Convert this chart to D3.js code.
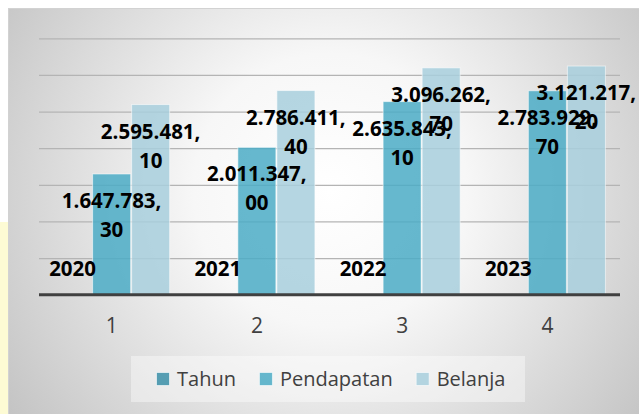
<!DOCTYPE html>
<html>
<head>
<meta charset="utf-8">
<script src="https://cdn.jsdelivr.net/npm/d3@7/dist/d3.min.js"></script>
<style>
  html, body { margin: 0; padding: 0; background: #ffffff; }
  svg { display: block; }
</style>
</head>
<body>
<svg id="chart" width="639" height="414"></svg>
<script>
// ---------- data ----------
const categories = ["1", "2", "3", "4"];
const seriesNames = ["Tahun", "Pendapatan", "Belanja"];
const tahun = [2020, 2021, 2022, 2023];
const pendapatan = [1647783.30, 2011347.00, 2635843.10, 2783929.70];
const belanja = [2595481.10, 2786411.40, 3096262.70, 3121217.20];
const yTicks = [0, 500000, 1000000, 1500000, 2000000, 2500000, 3000000, 3500000];
const seriesColors = ["#3b8fa8", "#4bacc6", "#a8cfdd"];

// ---------- setup ----------
const W = 639, H = 414;
const plot = { left: 39, right: 620, top: 38.3, bottom: 294.7 };
const svg = d3.select("#chart");
const defs = svg.append("defs");

const grad = defs.append("radialGradient")
  .attr("id", "bg").attr("gradientUnits", "userSpaceOnUse")
  .attr("cx", 330).attr("cy", 190).attr("r", 390);
grad.append("stop").attr("offset", "0").attr("stop-color", "#ffffff");
grad.append("stop").attr("offset", "0.35").attr("stop-color", "#f7f7f7");
grad.append("stop").attr("offset", "1").attr("stop-color", "#c4c4c4");

// page / frame
svg.append("rect").attr("x", 0).attr("y", 0).attr("width", W).attr("height", H).attr("fill", "#ffffff");
svg.append("rect").attr("x", 0).attr("y", 222).attr("width", 8).attr("height", H - 222).attr("fill", "#fdfbd4");
svg.append("rect").attr("x", 8.5).attr("y", 8.5).attr("width", W).attr("height", H)
  .attr("fill", "url(#bg)").attr("stroke", "#d2d2d2").attr("stroke-width", 1);

// ---------- scales ----------
const y = d3.scaleLinear().domain([0, 3500000]).range([plot.bottom, plot.top]);
const x0 = d3.scaleBand().domain(categories).range([plot.left, plot.right])
  .paddingInner(0.194).paddingOuter(0.097);
const x1 = d3.scaleBand().domain(seriesNames).range([0, x0.bandwidth()]);

// ---------- gridlines ----------
const gridAxis = d3.axisLeft(y).tickValues(yTicks.slice(1))
  .tickSize(-(plot.right - plot.left)).tickFormat("");
const gG = svg.append("g").attr("transform", `translate(${plot.left},0)`).call(gridAxis);
gG.select(".domain").remove();
gG.selectAll(".tick line").attr("stroke", "#b4b4b4").attr("stroke-width", 1.3);

// ---------- bars ----------
const table = categories.map((c, i) => ({
  cat: c,
  vals: [tahun[i], pendapatan[i], belanja[i]]
}));

const groups = svg.append("g").selectAll("g").data(table).join("g")
  .attr("transform", d => `translate(${x0(d.cat)},0)`);

groups.selectAll("rect").data(d => d.vals.map((v, j) => ({ v, j })))
  .join("rect")
  .attr("x", d => x1(seriesNames[d.j]) + 0.5)
  .attr("width", x1.bandwidth() - 1)
  .attr("y", d => y(d.v))
  .attr("height", d => Math.max(0, y(0) - y(d.v)))
  .attr("fill", d => seriesColors[d.j])
  .attr("fill-opacity", 0.85)
  .attr("stroke", "rgba(255,255,255,0.55)")
  .attr("stroke-width", 1);

// ---------- x axis ----------
const xAxis = d3.axisBottom(x0).tickSize(0).tickPadding(0);
const xG = svg.append("g").attr("transform", `translate(0,${plot.bottom})`).call(xAxis);
xG.select(".domain").attr("stroke", "#404040").attr("stroke-width", 3)
  .attr("d", `M${plot.left},0H${plot.right}`);
xG.selectAll(".tick text")
  .attr("y", 38.5).attr("dy", null)
  .attr("font-family", "'Open Sans', sans-serif")
  .attr("font-size", 21).attr("fill", "#404040");

// ---------- data labels ----------
const idLocale = d3.formatLocale({ decimal: ",", thousands: ".", grouping: [3], currency: ["Rp", ""] });
const fmtMoney = idLocale.format(",.2f");
const labelFont = "'Open Sans', 'Liberation Sans', sans-serif";
const labels = svg.append("g")
  .attr("font-family", labelFont).attr("font-weight", "bold")
  .attr("font-size", 20.5).attr("fill", "#000000").attr("text-anchor", "middle");

table.forEach(d => {
  d.vals.forEach((v, j) => {
    const cx = x0(d.cat) + x1(seriesNames[j]) + x1.bandwidth() / 2;
    if (j === 0) {
      labels.append("text").attr("x", cx).attr("y", y(v) - 19).text(String(v));
    } else {
      const s = fmtMoney(v);
      const k = s.indexOf(",");
      const lines = [s.slice(0, k + 1), s.slice(k + 1)];
      const t = labels.append("text").attr("x", cx).attr("y", y(v) + 34);
      lines.forEach((ln, li) => {
        t.append("tspan").attr("x", cx).attr("dy", li === 0 ? 0 : 29).text(ln);
      });
    }
  });
});

// ---------- legend ----------
const legend = svg.append("g");
legend.append("rect").attr("x", 131).attr("y", 356).attr("width", 394).attr("height", 46)
  .attr("fill", "#ffffff").attr("fill-opacity", 0.4);
let lx = 156;
seriesNames.forEach((name, j) => {
  legend.append("rect").attr("x", lx + 0.5).attr("y", 372.5).attr("width", 13).attr("height", 13)
    .attr("fill", seriesColors[j]).attr("fill-opacity", 0.85)
    .attr("stroke", "rgba(255,255,255,0.6)").attr("stroke-width", 1);
  const t = legend.append("text").attr("x", lx + 21).attr("y", 386)
    .attr("font-family", "'Open Sans', sans-serif").attr("font-size", 20)
    .attr("fill", "#404040").text(name);
  lx += 21 + t.node().getComputedTextLength() + 23;
});
</script>
</body>
</html>
